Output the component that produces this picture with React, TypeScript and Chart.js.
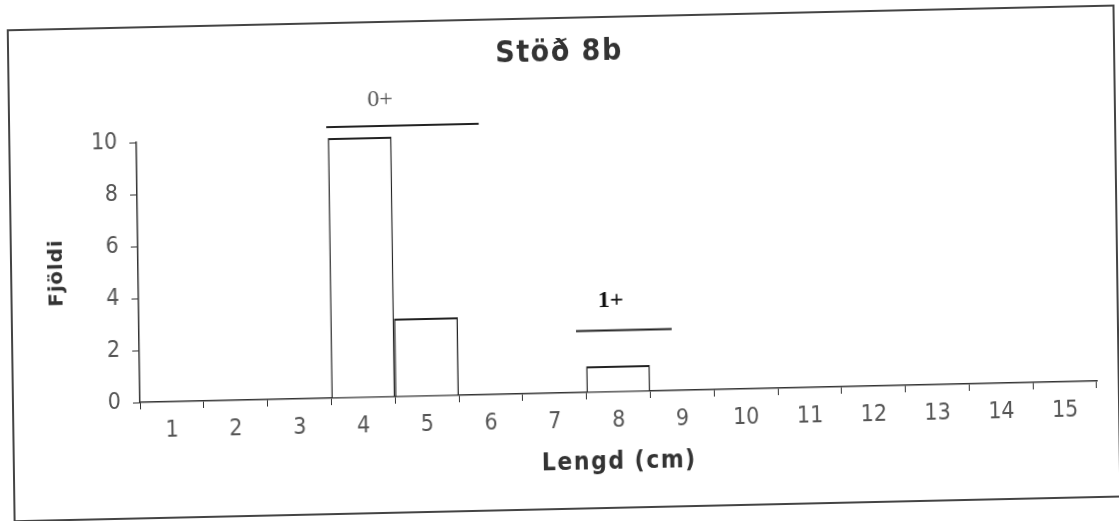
import React, { useEffect, useRef } from "react";
import { Chart, registerables } from "chart.js";

Chart.register(...registerables);

const categories = ["1", "2", "3", "4", "5", "6", "7", "8", "9", "10", "11", "12", "13", "14", "15"];
const counts = [0, 0, 0, 10, 3, 0, 0, 1, 0, 0, 0, 0, 0, 0, 0];
const yTicks = [0, 2, 4, 6, 8, 10];

// age-group annotations, in data units (length in cm, count)
const groupLabels = ["0+", "1+"];
const groupFrom = [3.48, 7.35];
const groupTo = [5.87, 8.85];
const groupLineY = [10.42, 2.37];
const groupTextX = [4.33, 7.9];
const groupTextY = [11.45, 3.5];

const titleText = "Stöð 8b";
const xTitle = "Lengd (cm)";
const yTitle = "Fjöldi";

export default function App() {
  const ref = useRef<HTMLCanvasElement | null>(null);

  useEffect(() => {
    document.body.style.margin = "0";
    const canvas = ref.current!;
    const decor = {
      id: "decor",
      afterDraw(chart: any) {
        const ctx = chart.ctx as CanvasRenderingContext2D;
        const xs = chart.scales.x;
        const ys = chart.scales.y;
        const ca = chart.chartArea;
        ctx.save();
        // frame
        ctx.strokeStyle = "#444";
        ctx.lineWidth = 2;
        ctx.strokeRect(11, 18, 1106, 491);
        ctx.textAlign = "center";
        ctx.textBaseline = "middle";
        // title
        ctx.save();
        ctx.fillStyle = "#333";
        ctx.translate(562, 53);
        ctx.scale(1, 1.1);
        (ctx as any).letterSpacing = "1.5px";
        ctx.font = "bold 27px 'DejaVu Sans'";
        ctx.fillText(titleText, 0, 0);
        ctx.restore();
        // x title
        ctx.save();
        ctx.fillStyle = "#333";
        ctx.translate((ca.left + ca.right) / 2, 464);
        ctx.scale(1, 1.1);
        (ctx as any).letterSpacing = "1.5px";
        ctx.font = "bold 22px 'DejaVu Sans'";
        ctx.fillText(xTitle, 0, 0);
        ctx.restore();
        // y title
        ctx.save();
        ctx.fillStyle = "#333";
        ctx.translate(57, 262);
        ctx.rotate(-Math.PI / 2);
        (ctx as any).letterSpacing = "0.8px";
        ctx.font = "bold 20px 'DejaVu Sans'";
        ctx.fillText(yTitle, 0, 0);
        ctx.restore();
        // annotations
        for (let i = 0; i < groupLabels.length; i++) {
          const x0 = xs.getPixelForValue(groupFrom[i] - 1);
          const x1 = xs.getPixelForValue(groupTo[i] - 1);
          const yl = ys.getPixelForValue(groupLineY[i]);
          ctx.strokeStyle = "#222";
          ctx.lineWidth = 2;
          ctx.beginPath();
          ctx.moveTo(x0, yl);
          ctx.lineTo(x1, yl);
          ctx.stroke();
          ctx.fillStyle = i === 0 ? "#555" : "#111";
          ctx.font = (i === 0 ? "" : "bold ") + "24px 'Liberation Serif'";
          ctx.fillText(
            groupLabels[i],
            xs.getPixelForValue(groupTextX[i] - 1),
            ys.getPixelForValue(groupTextY[i])
          );
        }
        ctx.restore();
      },
    };

    const tickFont = { family: "'DejaVu Sans Condensed', 'DejaVu Sans'", size: 23, weight: "normal" as any };

    const chart = new Chart(canvas, {
      type: "bar",
      data: {
        labels: categories,
        datasets: [
          {
            data: counts,
            backgroundColor: "#ffffff",
            borderColor: "#222",
            borderWidth: { top: 2, left: 1.5, right: 1.5, bottom: 0 } as any,
            borderSkipped: false as any,
            categoryPercentage: 1,
            barPercentage: 1,
            inflateAmount: 0,
          },
        ],
      },
      options: {
        animation: false,
        responsive: false,
        devicePixelRatio: 1,
        layout: { padding: { left: 0, top: 133, right: 24, bottom: 0 } },
        plugins: { legend: { display: false }, tooltip: { enabled: false }, title: { display: false } },
        scales: {
          x: {
            grid: { drawOnChartArea: false, drawTicks: true, tickLength: 7, color: "#333", offset: true },
            border: { display: true, color: "#333", width: 1.5 },
            ticks: { color: "#555", font: tickFont, padding: 8, maxRotation: 0 },
            afterFit(scale: any) {
              scale.height = 521 - 393;
            },
          },
          y: {
            min: 0,
            max: 10,
            afterBuildTicks(scale: any) {
              scale.ticks = yTicks.map((v) => ({ value: v }));
            },
            grid: { drawOnChartArea: false, drawTicks: true, tickLength: 7, color: "#333" },
            border: { display: true, color: "#333", width: 1.5 },
            ticks: { color: "#555", font: tickFont, padding: 12 },
            afterFit(scale: any) {
              scale.width = 138;
            },
          },
        },
      },
      plugins: [decor],
    });
    return () => chart.destroy();
  }, []);

  return (
    <div
      style={{
        position: "fixed",
        left: 0,
        top: 0,
        width: 1119,
        height: 521,
        background: "#fff",
        transform: "matrix(0.99975, -0.02234, 0.01396, 0.9999, 0, 0)",
        transformOrigin: "559.5px 260.5px",
      }}
    >
      <canvas ref={ref} width={1119} height={521} style={{ display: "block" }} />
    </div>
  );
}
